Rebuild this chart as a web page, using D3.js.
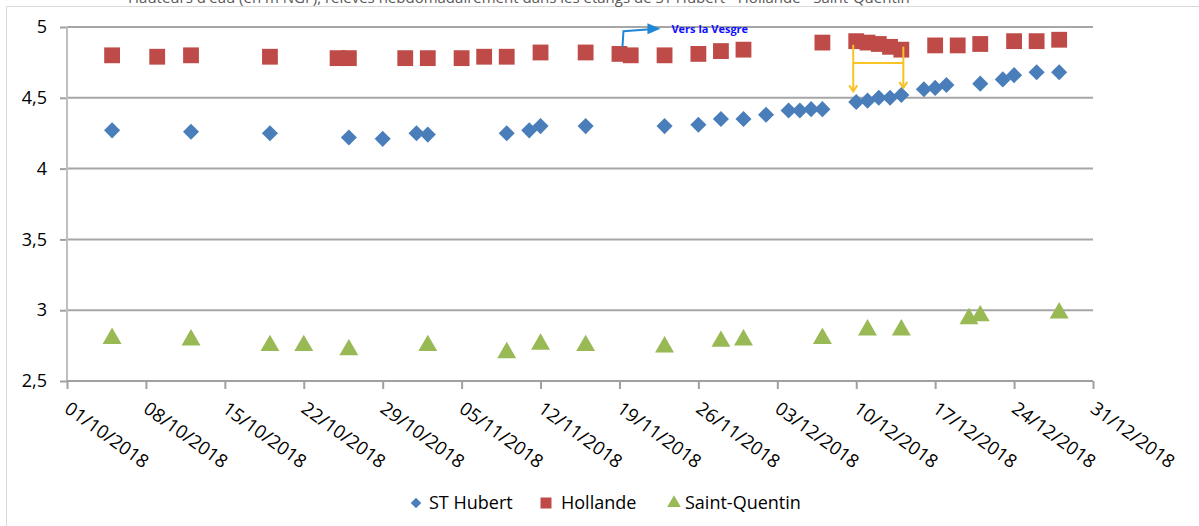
<!DOCTYPE html>
<html>
<head>
<meta charset="utf-8">
<script src="https://cdn.jsdelivr.net/npm/d3@7"></script>
<style>
  html, body { margin: 0; padding: 0; background: #fff; }
  svg { display: block; }
  text { font-family: "Open Sans", "DejaVu Sans", sans-serif; }
</style>
</head>
<body>
<svg id="chart" width="1199" height="526"></svg>
<script>
// ---------- DATA ----------
const titleText = "Hauteurs d'eau (en m NGF), relevés hebdomadairement dans les étangs de ST Hubert - Hollande - Saint-Quentin";
const seriesNames = ["ST Hubert", "Hollande", "Saint-Quentin"];

const stHubertDates = ["05/10/2018","12/10/2018","19/10/2018","26/10/2018","29/10/2018","01/11/2018","02/11/2018","09/11/2018","11/11/2018","12/11/2018","16/11/2018","23/11/2018","26/11/2018","28/11/2018","30/11/2018","02/12/2018","04/12/2018","05/12/2018","06/12/2018","07/12/2018","10/12/2018","11/12/2018","12/12/2018","13/12/2018","14/12/2018","16/12/2018","17/12/2018","18/12/2018","21/12/2018","23/12/2018","24/12/2018","26/12/2018","28/12/2018"];
const stHubertValues = [4.27,4.26,4.25,4.22,4.21,4.25,4.24,4.25,4.27,4.30,4.30,4.30,4.31,4.35,4.35,4.38,4.41,4.41,4.42,4.42,4.47,4.48,4.50,4.50,4.52,4.56,4.57,4.59,4.60,4.63,4.66,4.68,4.68];

const hollandeDates = ["05/10/2018","09/10/2018","12/10/2018","19/10/2018","25/10/2018","26/10/2018","31/10/2018","02/11/2018","05/11/2018","07/11/2018","09/11/2018","12/11/2018","16/11/2018","19/11/2018","20/11/2018","23/11/2018","26/11/2018","28/11/2018","30/11/2018","07/12/2018","10/12/2018","11/12/2018","12/12/2018","13/12/2018","14/12/2018","17/12/2018","19/12/2018","21/12/2018","24/12/2018","26/12/2018","28/12/2018"];
const hollandeValues = [4.80,4.79,4.80,4.79,4.78,4.78,4.78,4.78,4.78,4.79,4.79,4.82,4.82,4.81,4.80,4.80,4.81,4.83,4.84,4.89,4.90,4.89,4.88,4.86,4.84,4.87,4.87,4.88,4.90,4.90,4.91];

const saintQuentinDates = ["05/10/2018","12/10/2018","19/10/2018","22/10/2018","26/10/2018","02/11/2018","09/11/2018","12/11/2018","16/11/2018","23/11/2018","28/11/2018","30/11/2018","07/12/2018","11/12/2018","14/12/2018","20/12/2018","21/12/2018","28/12/2018"];
const saintQuentinValues = [2.80,2.79,2.75,2.75,2.72,2.75,2.70,2.76,2.75,2.74,2.78,2.79,2.80,2.86,2.86,2.94,2.96,2.98];

const xTickLabels = ["01/10/2018","08/10/2018","15/10/2018","22/10/2018","29/10/2018","05/11/2018","12/11/2018","19/11/2018","26/11/2018","03/12/2018","10/12/2018","17/12/2018","24/12/2018","31/12/2018"];
const yTickValues = [2.5, 3, 3.5, 4, 4.5, 5];

const annotationLabel = "Vers la Vesgre";
const annotationFromDate = "19/11/2018";
const yellowFromDate = "10/12/2018";
const yellowToDate = "14/12/2018";

// ---------- SETUP ----------
const parse = d3.utcParse("%d/%m/%Y");
const fmt = d3.utcFormat("%d/%m/%Y");
const colors = { "ST Hubert": "#4a7ebb", "Hollande": "#be4b48", "Saint-Quentin": "#98b954" };

const svg = d3.select("#chart");
const W = 1199, H = 526;
const plot = { left: 67, right: 1093, top: 27, bottom: 381 };

const x = d3.scaleUtc()
  .domain([parse(xTickLabels[0]), parse(xTickLabels[xTickLabels.length - 1])])
  .range([plot.left, plot.right]);
const y = d3.scaleLinear().domain([2.5, 5]).range([plot.bottom, plot.top]);

svg.append("rect").attr("width", W).attr("height", H).attr("fill", "#fff");

// chart border (top and left edges visible)
svg.append("path").attr("d", "M6.5,526 V6.5 H1199")
  .attr("fill", "none").attr("stroke", "#d9d9d9").attr("stroke-width", 1);

// title (partially cut off at top, as in the source)
svg.append("text").attr("x", 128).attr("y", 3).attr("font-size", 15).attr("fill", "#595959")
  .text(titleText);

// ---------- GRID / Y AXIS ----------
const yAxis = d3.axisLeft(y).tickValues(yTickValues)
  .tickSize(7).tickPadding(13)
  .tickFormat(d => String(d).replace(".", ","));
const gy = svg.append("g").attr("transform", `translate(${plot.left},0)`).call(yAxis);
gy.select(".domain").remove();
gy.selectAll(".tick line").attr("stroke", "#a0a0a0").attr("stroke-width", 2);
gy.selectAll(".tick text").attr("font-size", 18).attr("fill", "#000").attr("font-family", "Open Sans");

const grid = svg.append("g");
grid.selectAll("line").data(yTickValues.filter(v => v !== 2.5)).join("line")
  .attr("x1", plot.left).attr("x2", plot.right)
  .attr("y1", d => y(d)).attr("y2", d => y(d))
  .attr("stroke", "#a6a6a6").attr("stroke-width", 2);

// vertical axis line
svg.append("line").attr("x1", plot.left).attr("x2", plot.left)
  .attr("y1", plot.top).attr("y2", plot.bottom)
  .attr("stroke", "#bfbfbf").attr("stroke-width", 2);

// ---------- X AXIS ----------
const xAxis = d3.axisBottom(x).tickValues(xTickLabels.map(parse)).tickSize(8).tickFormat(fmt);
const gx = svg.append("g").attr("transform", `translate(0,${plot.bottom})`).call(xAxis);
gx.select(".domain").attr("stroke", "#a0a0a0").attr("stroke-width", 2)
  .attr("d", `M${plot.left},0H${plot.right}`);
gx.selectAll(".tick line").attr("stroke", "#a0a0a0").attr("stroke-width", 2);
gx.selectAll(".tick text")
  .attr("font-size", 18.5).attr("fill", "#000").attr("font-family", "Open Sans")
  .attr("text-anchor", "start")
  .attr("transform", "translate(4,19) rotate(36)")
  .attr("x", 0).attr("y", 0).attr("dy", "0.75em");

// ---------- MARKERS ----------
function series(dates, values) { return dates.map((d, i) => ({ date: parse(d), value: values[i] })); }
const sym = {
  "ST Hubert": d3.symbol().type(d3.symbolDiamond2).size(165),
  "Hollande": d3.symbol().type(d3.symbolSquare).size(250),
  "Saint-Quentin": d3.symbol().type(d3.symbolTriangle).size(155)
};
const allSeries = [
  { name: "ST Hubert", data: series(stHubertDates, stHubertValues) },
  { name: "Hollande", data: series(hollandeDates, hollandeValues) },
  { name: "Saint-Quentin", data: series(saintQuentinDates, saintQuentinValues) }
];
allSeries.forEach(s => {
  svg.append("g").selectAll("path").data(s.data).join("path")
    .attr("d", sym[s.name])
    .attr("transform", d => `translate(${x(d.date)},${y(d.value)})`)
    .attr("fill", colors[s.name]);
});

// ---------- ANNOTATIONS ----------
// Blue arrow "Vers la Vesgre"
const ax0 = x(parse(annotationFromDate)) + 3;
const blue = "#1f88d6";
svg.append("path")
  .attr("d", `M${ax0},${y(4.86)} L${ax0 + 1},${y(4.97)} L${ax0 + 28},${y(4.984)}`)
  .attr("fill", "none").attr("stroke", blue).attr("stroke-width", 2);
svg.append("path")
  .attr("d", `M${ax0 + 38},${y(4.987)} L${ax0 + 25},${y(4.987) - 5.5} L${ax0 + 25},${y(4.987) + 5.5} Z`)
  .attr("fill", blue);
svg.append("text").attr("x", ax0 + 49).attr("y", y(4.987)).attr("dy", "0.35em")
  .attr("font-family", "Liberation Sans Narrow, Liberation Sans, sans-serif")
  .attr("font-size", 11).attr("font-weight", "bold").attr("fill", "#1010ff")
  .text(annotationLabel);

// Yellow bracket arrows
const gold = "#f7c325";
const yx1 = x(parse(yellowFromDate)) - 3, yx2 = x(parse(yellowToDate)) + 2;
const ytop = y(4.875), ymid = y(4.745);
const yb1 = y(4.545), yb2 = y(4.57);
const gy2 = svg.append("g").attr("stroke", gold).attr("stroke-width", 2).attr("fill", "none");
gy2.append("path").attr("d", `M${yx1},${ytop} V${yb1}`);
gy2.append("path").attr("d", `M${yx2},${ytop + 2} V${yb2}`);
gy2.append("path").attr("d", `M${yx1},${ymid} H${yx2}`);
gy2.append("path").attr("d", `M${yx1 - 4},${yb1 - 6} L${yx1},${yb1} L${yx1 + 4},${yb1 - 6}`);
gy2.append("path").attr("d", `M${yx2 - 4},${yb2 - 6} L${yx2},${yb2} L${yx2 + 4},${yb2 - 6}`);

// ---------- LEGEND ----------
const legendY = 503;
const legendItems = [
  { name: "ST Hubert", mx: 416, tx: 429, sym: d3.symbol().type(d3.symbolDiamond2).size(70) },
  { name: "Hollande", mx: 546, tx: 561, sym: d3.symbol().type(d3.symbolSquare).size(121) },
  { name: "Saint-Quentin", mx: 674, tx: 685, sym: d3.symbol().type(d3.symbolTriangle).size(80) }
];
const lg = svg.append("g");
legendItems.forEach(it => {
  lg.append("path").attr("d", it.sym()).attr("transform", `translate(${it.mx},${legendY})`).attr("fill", colors[it.name]);
  lg.append("text").attr("x", it.tx).attr("y", legendY).attr("dy", "0.36em")
    .attr("font-size", 18).attr("fill", "#000").text(it.name);
});
</script>
</body>
</html>
